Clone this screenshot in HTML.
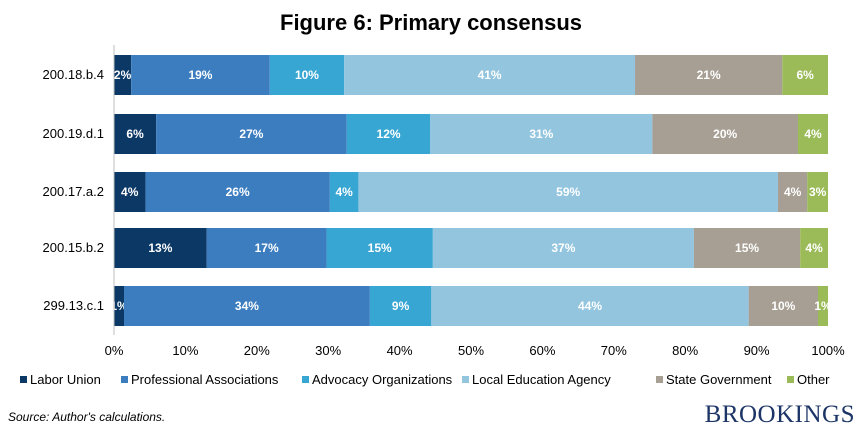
<!DOCTYPE html>
<html><head><meta charset="utf-8">
<style>
body{margin:0;background:#fff;width:863px;height:434px;overflow:hidden;font-family:"Liberation Sans",sans-serif;}
</style></head>
<body>
<svg id="chart" width="863" height="434" xmlns="http://www.w3.org/2000/svg">
<text x="431" y="30" text-anchor="middle" font-size="22" font-weight="bold" fill="#000">Figure 6: Primary consensus</text>
<text x="8" y="421" font-size="12" font-style="italic" fill="#000">Source: Author's calculations.</text>
<text x="855" y="422" text-anchor="end" font-family="Liberation Serif, serif" font-size="25" fill="#1c3566" letter-spacing="0.5">BROOKINGS</text>
<g id="plot"></g>
<g id="legend"></g>
</svg>
<script>
const categories = ["200.18.b.4","200.19.d.1","200.17.a.2","200.15.b.2","299.13.c.1"];
const seriesNames = ["Labor Union","Professional Associations","Advocacy Organizations","Local Education Agency","State Government","Other"];
const laborUnion   = [2.4, 5.9, 4.4, 13.0, 1.4];
const professional = [19.4, 26.7, 25.8, 16.8, 34.4];
const advocacy     = [10.4, 11.7, 4.0, 14.9, 8.6];
const lea          = [40.7, 31.1, 58.7, 36.6, 44.4];
const stateGov     = [20.6, 20.4, 4.1, 14.9, 9.7];
const other        = [6.4, 4.2, 2.9, 3.9, 1.4];
const xTicks = [0,10,20,30,40,50,60,70,80,90,100];
const series = [laborUnion, professional, advocacy, lea, stateGov, other];
const colors = ["#0c3866","#3c7dc0","#37a6d3","#93c5df","#a79f94","#9bbb59"];
const NS="http://www.w3.org/2000/svg";
const x0=114,x1=828,rowY=[75,134,192,248,306],barH=40;
const xs=v=>x0+(x1-x0)*v/100;
const plot=document.getElementById('plot');
function mk(t,a){const e=document.createElementNS(NS,t);for(const k in a)e.setAttribute(k,a[k]);return e;}
categories.forEach((c,i)=>{
  const tl=mk('text',{x:104,y:rowY[i]+4,'text-anchor':'end','font-size':13,fill:'#000'});
  
  
  tl.textContent=c;plot.appendChild(tl);
  let total=0;series.forEach(s=>total+=s[i]);
  let cum=0;
  series.forEach((s,j)=>{
    const v=s[i];const a=xs(cum/total*100),b=xs((cum+v)/total*100);cum+=v;
    const r=mk('rect',{x:a,y:rowY[i]-barH/2,width:b-a,height:barH,fill:colors[j]});
    
    
    plot.appendChild(r);
    const t=mk('text',{x:(a+b)/2,y:rowY[i]+4,'text-anchor':'middle','font-size':12,'font-weight':'bold',fill:'#fff'});
    
    
    t.textContent=Math.round(v)+'%';plot.appendChild(t);
  });
});
const ax=mk('line',{x1:x0,y1:45,x2:x0,y2:335,stroke:'#bfbfbf'});


plot.appendChild(ax);
xTicks.forEach(v=>{
  const t=mk('text',{x:xs(v),y:355,'text-anchor':'middle','font-size':13,fill:'#000'});
  
  
  t.textContent=v+'%';plot.appendChild(t);
});
const lg=document.getElementById('legend');
const lx=[30,131,312,472,666,797];
seriesNames.forEach((n,j)=>{
  const g=mk('g',{});
  
  
  g.appendChild(mk('rect',{x:lx[j]-10,y:376,width:7,height:7,fill:colors[j]}));
  const t=mk('text',{x:lx[j],y:384,'font-size':13,fill:'#000'});t.textContent=n;g.appendChild(t);
  lg.appendChild(g);
});
</script>
</body></html>
